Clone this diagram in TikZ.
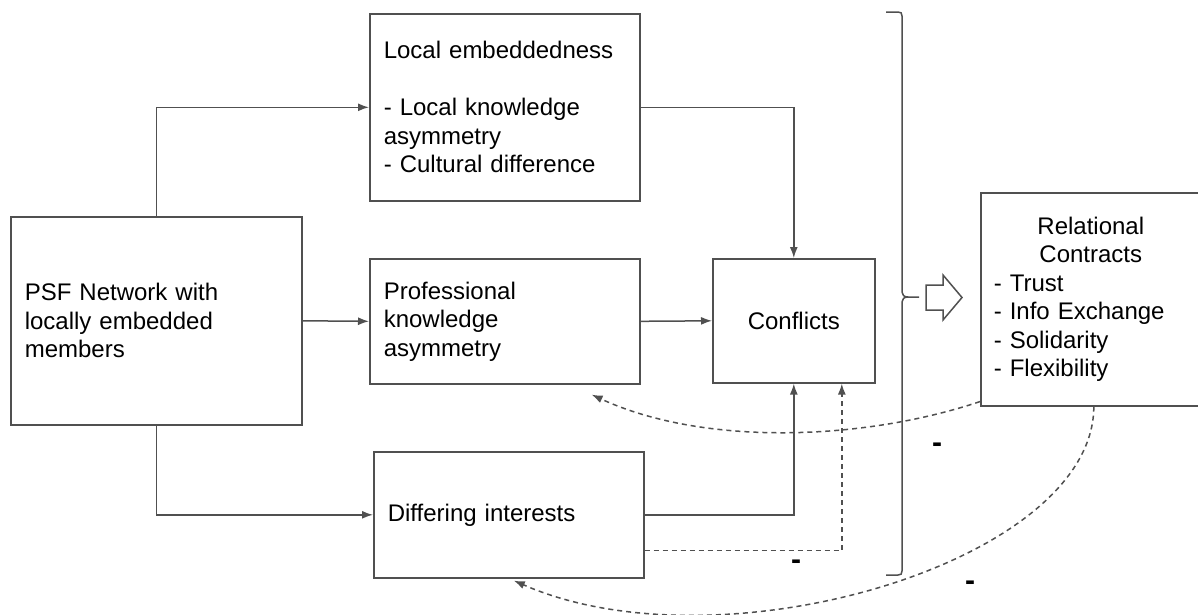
\documentclass[tikz,border=0pt]{standalone}
\usepackage{fontspec}
\setmainfont{Liberation Sans}
\usetikzlibrary{arrows.meta,calc}
\definecolor{linegray}{HTML}{505050}
\begin{document}
\begin{tikzpicture}[x=1pt,y=-1pt,
  box/.style={draw=linegray, line width=1.6pt, rectangle, inner ysep=0pt,
    font=\fontsize{24}{28.5}\selectfont, text=black},
  conn/.style={draw=linegray, line width=1.5pt, -{Latex[length=11pt,width=8pt]}},
  dconn/.style={conn, dash pattern=on 5pt off 4pt},
  minus/.style={font=\fontsize{30}{32}\selectfont\bfseries, inner sep=0pt}]
\useasboundingbox (0,0) rectangle (1198,614);

% boxes
\node[box, anchor=north west, minimum width=291pt, minimum height=208pt,
  text width=263pt, inner xsep=14pt, align=left] (psf) at (10,216)
  {PSF Network with\\locally embedded\\members};
\node[box, anchor=north west, minimum width=270pt, minimum height=187pt,
  text width=242pt, inner xsep=14pt, align=left] (local) at (369,13)
  {Local embeddedness\\[28.5pt]- Local knowledge\\asymmetry\\- Cultural difference};
\node[box, anchor=north west, minimum width=270pt, minimum height=125pt,
  text width=242pt, inner xsep=14pt, align=left] (prof) at (369,258)
  {Professional\\knowledge\\asymmetry};
\node[box, anchor=north west, minimum width=162pt, minimum height=124pt,
  align=center] (conf) at (712,258) {Conflicts};
\node[box, anchor=north west, minimum width=226pt, minimum height=213pt,
  text width=200pt, inner xsep=13pt, align=left] (rel) at (980,192)
  {\makebox[194pt][c]{Relational}\\\makebox[194pt][c]{Contracts}\\- Trust\\- Info Exchange\\- Solidarity\\- Flexibility};
\node[box, anchor=north west, minimum width=270pt, minimum height=126pt,
  text width=242pt, inner xsep=14pt, align=left] (diff) at (373,451)
  {Differing interests};

% solid connectors
\draw[conn] (psf.north) |- (local.west);
\draw[conn] (psf.east) -- (prof.west);
\draw[conn] (psf.south) |- (diff.west);
\draw[conn] (local.east) -| (conf.north);
\draw[conn] (prof.east) -- (conf.west);
\draw[conn] (diff.east) -| (conf.south);

% dashed connectors
\draw[dconn] ([yshift=28pt]diff.south east) -| ([xshift=48pt]conf.south);
\draw[dconn] ([yshift=5pt]rel.south west) .. controls +(-120,40) and +(110,51) ..
  ([xshift=-49pt,yshift=-10pt]prof.south east);
\draw[dconn] ([xshift=0pt]rel.south) .. controls +(0,155) and +(208,91) ..
  ([xshift=5pt,yshift=-2pt]diff.south);

% brace
\draw[linegray, line width=1.5pt]
  (886,12) -- (898,12) .. controls (901,12) and (902,13) .. (902,16) -- (902,292)
  .. controls (902,295) and (904,297) .. (908,297) -- (919,297);
\draw[linegray, line width=1.5pt]
  (908,297) .. controls (904,297) and (902,299) .. (902,302) -- (902,571)
  .. controls (902,574) and (901,575) .. (898,575) -- (886,575);

% hollow block arrow
\draw[linegray, line width=1.5pt, fill=white]
  (926,285) -- (943,285) -- (943,275) -- (962,297.5) -- (943,320) -- (943,310) -- (926,310) -- cycle;

% minus signs
\node[minus] (m1) at (937,448) {-};
\node[minus] (m2) at (796,565) {-};
\node[minus] (m3) at (970,586) {-};
\end{tikzpicture}
\end{document}
